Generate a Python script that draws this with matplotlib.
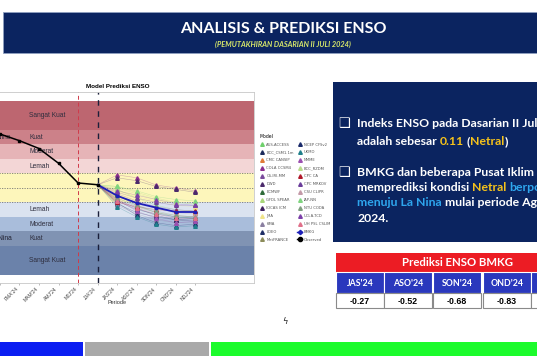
import matplotlib.pyplot as plt
from matplotlib.lines import Line2D
from matplotlib.patches import Rectangle

W, H = 537, 356

# ---- data ----
periods = ["NDJ'23", "DJF'24", "JFM'24", "FMA'24", "MAM'24", "AMJ'24", "MJJ'24",
           "JJA'24", "JAS'24", "ASO'24", "SON'24", "OND'24", "NDJ'24"]
obs_periods = ["NDJ'23", "DJF'24", "JFM'24", "FMA'24", "MAM'24", "AMJ'24", "MJJ'24", "JJA'24"]
obs_values = [2.00, 1.95, 1.86, 1.63, 1.36, 0.85, 0.17, 0.11]
fc_periods = ["JAS'24", "ASO'24", "SON'24", "OND'24", "NDJ'24"]
bmkg_values = [-0.27, -0.52, -0.68, -0.83, -0.83]

models = {
    "AUS-ACCESS":   [-0.05, -0.35, -0.60, -0.75, -0.80],
    "BCC_CSM1.1m":  [-0.55, -0.85, -1.00, -1.10, -1.05],
    "CMC CANSIP":   [-0.30, -0.50, -0.70, -0.80, -0.85],
    "COLA CCSM4":   [0.45, 0.35, 0.10, 0.00, -0.10],
    "CS-IRI-MM":    [-0.20, -0.45, -0.65, -0.75, -0.80],
    "DWD":          [0.35, 0.25, 0.05, -0.05, -0.15],
    "ECMWF":        [-0.25, -0.60, -0.85, -1.00, -1.05],
    "GFDL SPEAR":   [0.05, -0.15, -0.35, -0.50, -0.55],
    "IOCAS ICM":    [-0.40, -0.70, -0.95, -1.10, -1.15],
    "JMA":          [-0.10, -0.30, -0.45, -0.60, -0.65],
    "KMA":          [-0.60, -0.90, -1.10, -1.20, -1.20],
    "LDEO":         [-0.45, -0.75, -0.90, -1.00, -1.00],
    "MetFRANCE":    [-0.35, -0.65, -0.85, -0.95, -1.00],
    "NCEP CFSv2":   [-0.50, -0.95, -1.20, -1.30, -1.25],
    "UKMO":         [-0.65, -1.00, -1.25, -1.35, -1.30],
    "NMME":         [-0.40, -0.80, -1.05, -1.20, -1.15],
    "BCC_RZDM":     [0.00, -0.20, -0.40, -0.50, -0.55],
    "CPC CA":       [-0.50, -0.65, -0.75, -0.80, -0.80],
    "CPC MRKOV":    [-0.15, -0.35, -0.50, -0.60, -0.60],
    "CSU CLIPR":    [-0.30, -0.55, -0.70, -0.85, -0.90],
    "IAP-NN":       [0.05, -0.10, -0.30, -0.40, -0.45],
    "NTU CODA":     [-0.35, -0.60, -0.80, -0.95, -1.00],
    "UCLA-TCD":     [-0.10, -0.25, -0.40, -0.55, -0.60],
    "UH PSL CSLIM": [-0.45, -0.70, -0.90, -1.05, -1.05],
}
model_colors = ["#6fd06c", "#1c2b5c", "#e07b39", "#8b2d8f", "#7a4b9c", "#4b2a6b",
                "#2f6b3a", "#a8d67a", "#3d1f5e", "#f0e48a", "#8a7fa0", "#1f2f66",
                "#8c8c5a", "#1a2a6a", "#1f7f8a", "#9b4fb0", "#b8dc8c", "#b0182a",
                "#6a3d9a", "#c49aa8", "#7fd47f", "#7f9f7f", "#7b3fa8", "#e0708a"]

band_names = ["Sangat Kuat", "Kuat", "Moderat", "Lemah", "", "Lemah", "Moderat", "Kuat", "Sangat Kuat"]
band_edges = [3.0, 2.0, 1.5, 1.0, 0.5, -0.5, -1.0, -1.5, -2.0, -3.0]
band_colors = ["#bd6670", "#cc8189", "#e6b4b7", "#f3d6d6", "#fdf6bb",
               "#dbe3f0", "#a9bddb", "#8093b3", "#6b82aa"]

table_cols = ["JAS'24", "ASO'24", "SON'24", "OND'24", "NDJ'24"]
table_vals = ["-0.27", "-0.52", "-0.68", "-0.83", "-0.83"]

NAVY = "#0b2460"
GOLD = "#f5c21b"
SKY = "#2ea6ee"

fig = plt.figure(figsize=(W / 100, H / 100), dpi=100)


def px_box(x0, y0, x1, y1):
    return [x0 / W, 1 - y1 / H, (x1 - x0) / W, (y1 - y0) / H]


# ---- slide background layer (pixel coordinates) ----
bg = fig.add_axes([0, 0, 1, 1])
bg.set_xlim(0, W)
bg.set_ylim(H, 0)
bg.axis("off")

bg.add_patch(Rectangle((3, 12), W - 3, 41, color=NAVY, ec="#8fa0c0", lw=0.6))
bg.text(283, 29, "ANALISIS & PREDIKSI ENSO", color="white", fontsize=11.5,
        fontweight="bold", family=["Lato", "DejaVu Sans"], ha="center", va="center")
bg.text(283, 44, "(PEMUTAKHIRAN DASARIAN II JULI 2024)", color="#d8e86a", fontsize=5.3,
        fontweight="bold", fontstyle="italic", family=["Lato", "DejaVu Sans"],
        ha="center", va="center")

# right text panel
bg.add_patch(Rectangle((333, 82), W - 333, 160, color=NAVY, lw=0))
renderer = fig.canvas.get_renderer()
PANEL_FONT = dict(fontsize=8.8, fontweight="bold", family=["Lato", "DejaVu Sans"])


def text_width(s):
    t = bg.text(0, 0, s, **PANEL_FONT)
    w = t.get_window_extent(renderer=renderer).width
    t.remove()
    return w


space_w = text_width("x x") - text_width("xx")


def rich_line(x, y, pieces):
    # pieces: (text, colour, space_before)
    for s, c, gap in pieces:
        if gap:
            x += space_w
        t = bg.text(x, y, s, color=c, va="baseline", ha="left", **PANEL_FONT)
        x += t.get_window_extent(renderer=renderer).width


for yb in [127, 176]:
    bg.text(344, yb, "\u2751", color="white", fontsize=9.5, va="baseline", ha="center",
            family=["DejaVu Sans"])
rich_line(357, 127, [("Indeks ENSO pada Dasarian II Juli 2024", "white", False)])
rich_line(357, 145, [("adalah sebesar", "white", False), ("0.11", GOLD, True),
                     ("(", "white", True), ("Netral", GOLD, False), (")", "white", False)])
rich_line(357, 176, [("BMKG dan beberapa Pusat Iklim Dunia", "white", False)])
rich_line(357, 191, [("memprediksi kondisi", "white", False), ("Netral", GOLD, True),
                     ("berpotensi", SKY, True)])
rich_line(357, 206, [("menuju La Nina", SKY, False), ("mulai periode Agustus", "white", True)])
rich_line(357, 222, [("2024.", "white", False)])

# prediction table
bg.add_patch(Rectangle((336, 253), W - 336, 19, color="#ec1c24", lw=0))
bg.text(457, 263, "Prediksi ENSO BMKG", color="white", fontsize=8.2, fontweight="bold",
        family=["Lato", "DejaVu Sans"], ha="center", va="center")
col_x = [336, 384, 433, 483, 531]
for i, (name, val) in enumerate(zip(table_cols, table_vals)):
    x0 = col_x[i]
    bg.add_patch(Rectangle((x0, 272), 48, 21, fc="#2a38bd", ec="white", lw=0.8))
    bg.add_patch(Rectangle((x0, 293), 48, 15, fc="white", ec="#8a8a8a", lw=0.8))
    bg.text(x0 + 24, 283, name, color="white", fontsize=6.3, fontweight="bold",
            family=["Lato", "DejaVu Sans"], ha="center", va="center")
    bg.text(x0 + 24, 301, val, color="black", fontsize=6.3, fontweight="bold",
            family=["Liberation Sans", "DejaVu Sans"], ha="center", va="center")

# bottom colour strip
bg.add_patch(Rectangle((0, 342), 83, 14, color="#0b1ef2", lw=0))
bg.add_patch(Rectangle((85, 342), 124, 14, color="#a9a9a9", lw=0))
bg.add_patch(Rectangle((211, 342), W - 211, 14, color="#1cfb2c", lw=0))
bg.text(285, 322, "\u03df", fontsize=6, color="#222222", ha="center", va="center")

# ---- ENSO chart ----
CF = ["Liberation Sans Narrow", "Liberation Sans", "DejaVu Sans"]
ax = fig.add_axes(px_box(-45, 92, 254, 283))
ax.set_xlim(-0.3, 15.0)
ax.set_ylim(-3.28, 3.31)
ax.set_facecolor("white")

for top, bottom, c in zip(band_edges[:-1], band_edges[1:], band_colors):
    ax.axhspan(bottom, top, color=c, lw=0, zorder=0)
for top, bottom, name in zip(band_edges[:-1], band_edges[1:], band_names):
    if name:
        ax.text(3.5, (top + bottom) / 2, name, fontsize=4.8, color="#2e2e3e",
                va="center", ha="left", family=CF)
ax.text(2.55, 1.75, "El Nino", fontsize=4.8, color="#2e2e3e", va="center", ha="right", family=CF)
ax.text(2.6, -1.75, "La Nina", fontsize=4.8, color="#1e1e2e", va="center", ha="right", family=CF)

for yv in [0.5, 0.0, -0.5]:
    ax.axhline(yv, color="#777777", lw=0.6, ls=(0, (1.5, 1.5)), zorder=1)

xi = {p: i for i, p in enumerate(periods)}
ax.axvline(xi["MJJ'24"], color="#d03a4a", lw=0.7, ls=(0, (4, 3)), zorder=2)
ax.axvline(xi["JJA'24"], color="#1a1f3a", lw=1.0, ls=(0, (4, 4)), zorder=2)

obs_x = [xi[p] for p in obs_periods]
fc_x = [xi[p] for p in fc_periods]

handles = []
for (name, vals), c in zip(models.items(), model_colors):
    ax.plot([obs_x[-1]] + fc_x, [obs_values[-1]] + vals, color=c, lw=0.4, alpha=0.35, zorder=3)
    ax.plot(fc_x, vals, ls="none", marker="^", ms=2.6, color=c, zorder=4)
    handles.append(Line2D([], [], ls="none", marker="^", ms=2.6, color=c, label=name))

ax.plot([obs_x[-1]] + fc_x, [obs_values[-1]] + bmkg_values, color="#1d1fb8", lw=1.3,
        marker="s", ms=1.8, zorder=5)
ax.plot(obs_x, obs_values, color="black", lw=1.1, marker="s", ms=1.8, zorder=6)
handles.append(Line2D([], [], color="#1d1fb8", lw=1.0, marker="D", ms=2.2, label="BMKG"))
handles.append(Line2D([], [], color="black", lw=1.0, marker="o", ms=3, label="Observed"))

ax.set_yticks([])
ax.set_xticks(range(len(periods)))
ax.set_xticklabels(periods, rotation=45, ha="right", fontsize=3.6, color="#444444",
                   family=CF)
ax.tick_params(axis="x", length=1.5, width=0.4, color="#888888", pad=1)
for s in ax.spines.values():
    s.set_color("#c8c8c8")
    s.set_linewidth(0.6)

ax.set_title("Model Prediksi ENSO", fontsize=4.5, fontweight="bold", pad=3, family=CF,
             x=(118 + 45) / 299)
bg.text(117, 303, "Periode", fontsize=4, color="#333333", ha="center", va="center", family=CF)

leg = ax.legend(handles=handles, ncol=2, loc="upper left", title="Model",
                bbox_to_anchor=(257 / W, 1 - 131 / H), bbox_transform=fig.transFigure,
                frameon=False, fontsize=2.7, title_fontsize=3.3, labelspacing=1.05,
                handlelength=1.2, handletextpad=0.6, columnspacing=0.9, borderpad=0.2)
leg._legend_box.align = "left"
for t in leg.get_texts():
    t.set_color("#555555")

fig.savefig("out.png", dpi=100)
